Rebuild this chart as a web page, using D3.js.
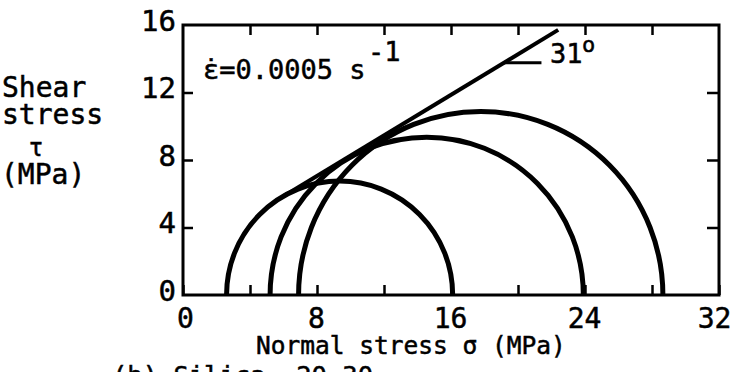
<!DOCTYPE html>
<html>
<head>
<meta charset="utf-8">
<script src="https://cdn.jsdelivr.net/npm/d3@7"></script>
<style>
  html, body { margin: 0; padding: 0; background: #fff; }
  svg { display: block; }
  text { font-family: "DejaVu Sans Mono", "Liberation Mono", monospace; fill: #000; stroke: #000; stroke-width: 0.5px; }
</style>
</head>
<body>
<svg id="chart" width="732" height="372"></svg>
<script>
// Mohr circles at failure: minor and major principal stress (MPa)
const sigma3 = [2.6, 5.2, 6.9];
const sigma1 = [16.1, 23.9, 28.65];

// Mohr-Coulomb failure envelope
const frictionAngle = 31;      // degrees
const cohesion = 2.25;         // MPa
const envelopeSigma = [6.0, 22.4];

// Axis ticks and labels
const xTicks = [0, 4, 8, 12, 16, 20, 24, 28, 32];
const xLabels = [0, 8, 16, 24, 32];
const yTicks = [0, 4, 8, 12, 16];
const yInnerTicks = [4, 8, 12];

const W = 732, H = 372;
const margin = { left: 183, top: 25, right: 13, bottom: 77 };
const svg = d3.select("#chart");

const x = d3.scaleLinear().domain([0, 32]).range([margin.left, W - margin.right]);
const y = d3.scaleLinear().domain([0, 16]).range([H - margin.bottom, margin.top]);

// Frame
svg.append("rect")
  .attr("x", x(0)).attr("y", y(16))
  .attr("width", x(32) - x(0)).attr("height", y(0) - y(16))
  .attr("fill", "none").attr("stroke", "#000").attr("stroke-width", 3);

function styleAxis(g) {
  g.select(".domain").remove();
  g.selectAll(".tick line").attr("stroke", "#000").attr("stroke-width", 2.5);
}

// Bottom axis: inward ticks, labels every 8 MPa
const gx = svg.append("g").attr("transform", `translate(0,${y(0)})`)
  .call(d3.axisBottom(x).tickValues(xTicks).tickSizeInner(-10).tickSizeOuter(0)
    .tickFormat(d => xLabels.includes(d) ? d : ""));
styleAxis(gx);
gx.selectAll(".tick text")
  .attr("y", 33).attr("dy", null)
  .attr("dx", d => d === 32 ? -5 : (d === 0 ? 2 : -1))
  .attr("font-size", 28).attr("text-anchor", "middle");

// Top axis: inward ticks only
const gt = svg.append("g").attr("transform", `translate(0,${y(16)})`)
  .call(d3.axisTop(x).tickValues(xTicks.slice(1, -1)).tickSizeInner(-10).tickSizeOuter(0).tickFormat(""));
styleAxis(gt);

// Left axis: labels, inward ticks
const gy = svg.append("g").attr("transform", `translate(${x(0)},0)`)
  .call(d3.axisLeft(y).tickValues(yTicks).tickSizeInner(0).tickSizeOuter(0));
styleAxis(gy);
gy.selectAll(".tick line").remove();
gy.selectAll(".tick text")
  .attr("x", -7).attr("y", 5).attr("dy", null)
  .attr("font-size", 29).attr("text-anchor", "end");
const gyi = svg.append("g").attr("transform", `translate(${x(0)},0)`)
  .call(d3.axisLeft(y).tickValues(yInnerTicks).tickSizeInner(-10).tickSizeOuter(0).tickFormat(""));
styleAxis(gyi);

// Right axis: inward ticks only
const gr = svg.append("g").attr("transform", `translate(${x(32)},0)`)
  .call(d3.axisRight(y).tickValues(yInnerTicks).tickSizeInner(-12).tickSizeOuter(0).tickFormat(""));
styleAxis(gr);

// Mohr semicircles
const circles = sigma3.map((s3, i) => ({ s3, s1: sigma1[i] }));
svg.append("g").selectAll("path.mohr")
  .data(circles)
  .join("path")
  .attr("class", "mohr")
  .attr("d", d => {
    const r = (d.s1 - d.s3) / 2;
    const rx = x(r) - x(0), ry = y(0) - y(r);
    return `M${x(d.s3)},${y(0)} A${rx},${ry} 0 0 1 ${x(d.s1)},${y(0)}`;
  })
  .attr("fill", "none").attr("stroke", "#000").attr("stroke-width", 5);

// Failure envelope
const tanPhi = Math.tan(frictionAngle * Math.PI / 180);
const tau = s => cohesion + s * tanPhi;
svg.append("path")
  .datum(envelopeSigma)
  .attr("d", d3.line().x(s => x(s)).y(s => y(tau(s))))
  .attr("fill", "none").attr("stroke", "#000").attr("stroke-width", 4);

// Angle callout
const calloutSigma = [19.16, 21.4];
svg.append("path")
  .datum(calloutSigma)
  .attr("d", d3.line().x(s => x(s)).y(() => y(tau(calloutSigma[0]))))
  .attr("fill", "none").attr("stroke", "#000").attr("stroke-width", 3);

function label(txt, px, py, size, anchor) {
  return svg.append("text")
    .attr("x", px).attr("y", py)
    .attr("font-size", size)
    .attr("text-anchor", anchor || "start")
    .text(txt);
}

label("31", 550, 63, 27);
label("o", 582, 52, 22);

// Strain rate, with the rate dot over epsilon
label("\u03B5=0.0005 s", 203, 79, 27);
label("\u02D9", 203, 79, 27);
label("-1", 368, 61, 27);

// Axis titles
label("Shear", 2, 97, 28);
label("stress", 2, 124, 28);
label("\u03C4", 36, 156, 24, "middle");
label("(MPa)", 1, 184, 28);
label("Normal stress \u03C3 (MPa)", 411, 354, 24.5, "middle");

// Caption (partly below the bottom edge)
label("(b) Silica, 20-30", 112, 384, 25.5);
</script>
</body>
</html>
